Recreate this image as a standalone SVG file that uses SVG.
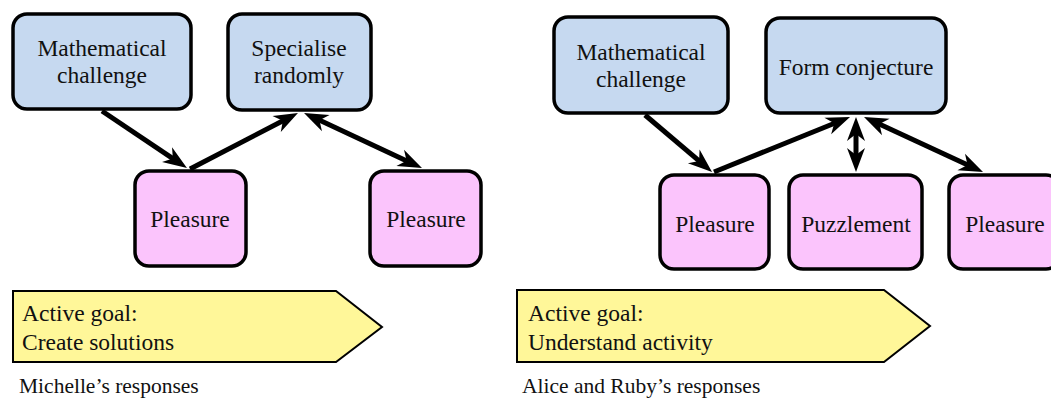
<svg xmlns="http://www.w3.org/2000/svg" width="1051" height="399" viewBox="0 0 1051 399">
<style>
.box{stroke:#000;stroke-width:3.5}
.blue{fill:#c6d9f0}
.pink{fill:#fbc4fc}
.goal{fill:#fff799;stroke:#000;stroke-width:2}
.t{font-family:"Liberation Serif","Times New Roman",serif;font-size:23.5px;fill:#111}
.c{text-anchor:middle}
.cap{font-family:"Liberation Serif","Times New Roman",serif;font-size:21.5px;fill:#111}
.con{stroke:#000;stroke-width:5;fill:none}
</style>
<defs>
<marker id="ah" markerUnits="userSpaceOnUse" viewBox="-14 -11 28 22" refX="0" refY="0" markerWidth="28" markerHeight="22" orient="auto-start-reverse">
<path d="M12,0 L-12,-9 L-5,0 L-12,9 Z" fill="#000"/>
</marker>
</defs>
<rect width="1051" height="399" fill="#fff"/>
<g id="connectors">
<line class="con" x1="102" y1="111" x2="177" y2="161.3" marker-end="url(#ah)"/>
<line class="con" x1="190" y1="169" x2="287.3" y2="118.5" marker-end="url(#ah)"/>
<line class="con" x1="314.9" y1="118.1" x2="411.1" y2="162.9" marker-start="url(#ah)" marker-end="url(#ah)"/>
<line class="con" x1="645" y1="115" x2="702.9" y2="164.2" marker-end="url(#ah)"/>
<line class="con" x1="714" y1="172" x2="838.9" y2="121.5" marker-end="url(#ah)"/>
<line class="con" x1="856" y1="129" x2="856" y2="160" marker-start="url(#ah)" marker-end="url(#ah)"/>
<line class="con" x1="874.9" y1="122" x2="972.1" y2="167" marker-start="url(#ah)" marker-end="url(#ah)"/>
</g>
<g id="m-math">
<rect class="box blue" x="13" y="14" width="178" height="95" rx="14"/>
<text class="t c" x="102" y="56">Mathematical</text>
<text class="t c" x="102" y="83">challenge</text>
</g>
<g id="m-spec">
<rect class="box blue" x="228" y="14" width="143" height="96" rx="14"/>
<text class="t c" x="299" y="56">Specialise</text>
<text class="t c" x="299" y="83">randomly</text>
</g>
<g id="m-pleasure1">
<rect class="box pink" x="135" y="171" width="111" height="95" rx="14"/>
<text class="t c" x="190" y="227">Pleasure</text>
</g>
<g id="m-pleasure2">
<rect class="box pink" x="370" y="171" width="111" height="95" rx="14"/>
<text class="t c" x="426" y="227">Pleasure</text>
</g>
<g id="m-goal">
<polygon class="goal" points="13,291 336,291 382,327 336,362 13,362"/>
<text class="t" x="22" y="321">Active goal:</text>
<text class="t" x="22" y="350">Create solutions</text>
</g>
<g id="m-caption">
<text class="cap" x="19" y="393">Michelle’s responses</text>
</g>
<g id="a-math">
<rect class="box blue" x="554" y="17" width="174" height="96" rx="14"/>
<text class="t c" x="641" y="60">Mathematical</text>
<text class="t c" x="641" y="87">challenge</text>
</g>
<g id="a-form">
<rect class="box blue" x="766" y="18" width="180" height="95" rx="14"/>
<text class="t c" x="856" y="75">Form conjecture</text>
</g>
<g id="a-pleasure1">
<rect class="box pink" x="660" y="175" width="109" height="94" rx="14"/>
<text class="t c" x="715" y="232">Pleasure</text>
</g>
<g id="a-puzzlement">
<rect class="box pink" x="789" y="175" width="133" height="94" rx="14"/>
<text class="t c" x="856" y="232">Puzzlement</text>
</g>
<g id="a-pleasure2">
<rect class="box pink" x="949" y="175" width="111" height="94" rx="14"/>
<text class="t c" x="1005" y="232">Pleasure</text>
</g>
<g id="a-goal">
<polygon class="goal" points="517,290 884,290 930,326 884,362 517,362"/>
<text class="t" x="528" y="321">Active goal:</text>
<text class="t" x="528" y="350">Understand activity</text>
</g>
<g id="a-caption">
<text class="cap" x="522" y="393">Alice and Ruby’s responses</text>
</g>
</svg>
